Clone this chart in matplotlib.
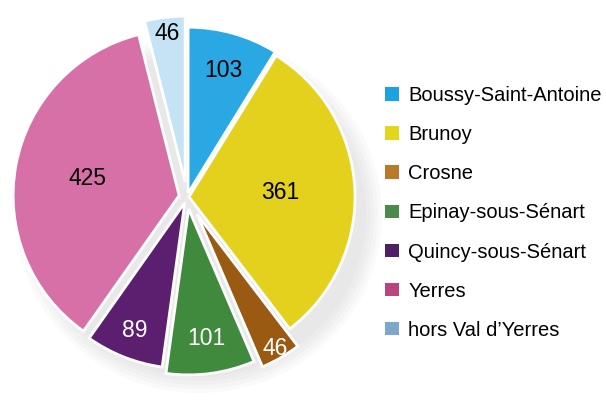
import matplotlib
matplotlib.use("Agg")
import matplotlib.pyplot as plt
from matplotlib.patches import Patch, Ellipse
import numpy as np

labels = ["Boussy-Saint-Antoine", "Brunoy", "Crosne", "Epinay-sous-Sénart",
          "Quincy-sous-Sénart", "Yerres", "hors Val d\u2019Yerres"]
values = [103, 361, 46, 101, 89, 425, 46]

slice_colors = ["#2aa8e4", "#e3d11e", "#9a5a12", "#3f8a3d", "#5c1f70", "#d870a8", "#c6e3f5"]
legend_colors = ["#1aa3e0", "#e3d61e", "#b87a2a", "#4a8a4a", "#4e1f62", "#b8457f", "#7ea6cc"]
text_colors = ["black", "black", "white", "white", "white", "black", "black"]
explode_px = [4, 2, 20, 12, 6, 8, 15]
label_dist = [132, 93, 175, 143, 143, 101, 165]

fig = plt.figure(figsize=(6.06, 4.01), dpi=100)
ax = fig.add_axes([0, 0, 1, 1])

cx, cy, R = 187, 401 - 197, 166

# soft shadow
for i in range(5):
    ax.add_patch(Ellipse((cx + 12, cy - 18), 2 * R + 34 - 8 * i, 2 * R + 24 - 8 * i,
                         color="gray", alpha=0.035, lw=0, zorder=0))

wedges, _ = ax.pie(values, radius=R, center=(cx, cy), startangle=90, counterclock=False,
                   colors=slice_colors, explode=explode_px,
                   wedgeprops=dict(edgecolor="white", linewidth=2.0))
for w, v, tc, d in zip(wedges, values, text_colors, label_dist):
    ang = np.deg2rad((w.theta1 + w.theta2) / 2)
    ax.text(cx + d * np.cos(ang), cy + d * np.sin(ang), str(v), ha="center", va="center",
            fontsize=16.5, color=tc, family="Liberation Sans", zorder=5)

ax.set_xlim(0, 606)
ax.set_ylim(0, 401)
ax.set_aspect("equal")
ax.axis("off")

handles = [Patch(facecolor=c, edgecolor="none") for c in legend_colors]
ax.legend(handles, labels, loc="upper left", bbox_to_anchor=(385 / 606, 1 - 86 / 401),
          frameon=False, borderpad=0, borderaxespad=0,
          handlelength=0.7, handleheight=0.65, handletextpad=0.45,
          labelspacing=1.0, prop=dict(family="Liberation Sans", size=14.5))

fig.savefig("out.png", dpi=100)
